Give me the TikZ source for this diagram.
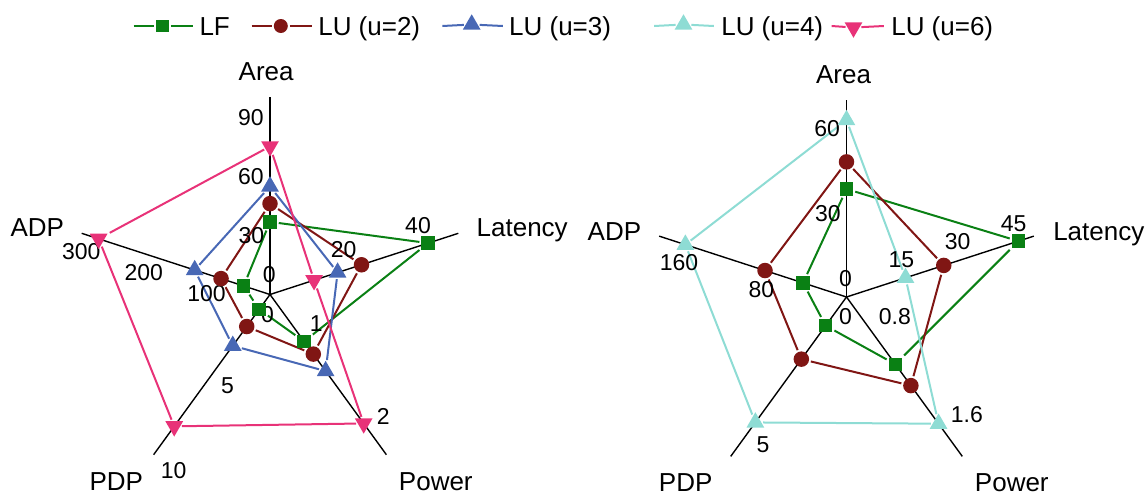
\documentclass[tikz,border=0pt]{standalone}
\usepackage{fontspec}
\setmainfont{Liberation Sans}
\usetikzlibrary{calc,shapes.geometric}
\definecolor{cLF}{RGB}{10,128,20}
\definecolor{cUtwo}{RGB}{128,22,20}
\definecolor{cUthree}{RGB}{72,104,181}
\definecolor{cUfour}{RGB}{142,220,212}
\definecolor{cUsix}{RGB}{232,50,120}
\pgfdeclarelayer{bg}
\pgfsetlayers{bg,main}
\tikzset{
  axisline/.style={line width=1.4pt, black},
  serline/.style={line width=2pt},
  mksq/.style={rectangle, fill=#1, draw=none, minimum size=13.5pt, inner sep=0pt, outer sep=2pt},
  mkci/.style={circle, fill=#1, draw=none, minimum size=15.5pt, inner sep=0pt, outer sep=2pt},
  mkup/.style={regular polygon, regular polygon sides=3, fill=#1, draw=none, minimum size=20.5pt, inner sep=0pt, outer sep=1.5pt},
  mkdn/.style={regular polygon, regular polygon sides=3, shape border rotate=180, fill=#1, draw=none, minimum size=20.5pt, inner sep=0pt, outer sep=1.5pt},
  axlabel/.style={font=\fontsize{26}{30}\selectfont, inner sep=0pt, text height=18.6pt, text depth=0pt, anchor=center},
  ticklabel/.style={font=\fontsize{23}{26}\selectfont, inner sep=0pt, anchor=center},
  legtext/.style={font=\fontsize{26}{30}\selectfont, inner sep=0pt, text height=18.6pt, text depth=0pt, anchor=west},
}
% #1 chart prefix, #2 series id, #3 marker style, #4 colour, #5..#9 fractions (Area, Latency, Power, PDP, ADP)
\newcommand{\radarseries}[9]{%
  \node[#3=#4] (#1#2a) at ($(#1c)!#5!(#1ea)$) {};
  \node[#3=#4] (#1#2b) at ($(#1c)!#6!(#1eb)$) {};
  \node[#3=#4] (#1#2c) at ($(#1c)!#7!(#1ec)$) {};
  \node[#3=#4] (#1#2d) at ($(#1c)!#8!(#1ed)$) {};
  \node[#3=#4] (#1#2e) at ($(#1c)!#9!(#1ee)$) {};
  \begin{pgfonlayer}{bg}
    \draw[serline, #4] (#1#2a) -- (#1#2b) -- (#1#2c) -- (#1#2d) -- (#1#2e) -- (#1#2a);
  \end{pgfonlayer}
}
\begin{document}
\begin{tikzpicture}[x=1pt,y=-1pt]
\useasboundingbox (0,0) rectangle (1146,496);

% ---------- legend ----------
\coordinate (l1s) at (133.5,26); \coordinate (l1e) at (192.7,26);
\node[mksq=cLF, minimum size=12.5pt] (l1m) at (162.7,26) {};
\draw[serline, cLF] (l1s) -- (l1m) -- (l1e);
\node[legtext] (l1t) at (199.3,26) {LF};

\coordinate (l2s) at (251.5,26); \coordinate (l2e) at (311.5,26);
\node[mkci=cUtwo, minimum size=14pt] (l2m) at (280.8,26) {};
\draw[serline, cUtwo] (l2s) -- (l2m) -- (l2e);
\node[legtext] (l2t) at (318.1,26) {LU (u=2)};

\coordinate (l3s) at (442.4,26); \coordinate (l3e) at (502.8,26);
\node[mkup=cUthree] (l3m) at (471.7,24.5) {};
\draw[serline, cUthree] (l3s) -- (l3m) -- (l3e);
\node[legtext] (l3t) at (509,26) {LU (u=3)};

\coordinate (l4s) at (654.2,26); \coordinate (l4e) at (713.8,26);
\node[mkup=cUfour] (l4m) at (683.5,24.5) {};
\draw[serline, cUfour] (l4s) -- (l4m) -- (l4e);
\node[legtext] (l4t) at (721.1,26) {LU (u=4)};

\coordinate (l5s) at (831.6,26); \coordinate (l5e) at (883.8,26);
\node[mkdn=cUsix] (l5m) at (853.5,27.5) {};
\draw[serline, cUsix] (l5s) -- (l5m) -- (l5e);
\node[legtext] (l5t) at (891.1,26) {LU (u=6)};

% ---------- left chart ----------
\coordinate (Lc) at (270,294.5);
\coordinate (Lea) at ($(Lc)+(-90:198)$);
\coordinate (Leb) at ($(Lc)+(-18:198)$);
\coordinate (Lec) at ($(Lc)+(54:198)$);
\coordinate (Led) at ($(Lc)+(126:198)$);
\coordinate (Lee) at ($(Lc)+(198:198)$);
\begin{pgfonlayer}{bg}
\draw[axisline] (Lc) -- (Lea);
\draw[axisline] (Lc) -- (Leb);
\draw[axisline] (Lc) -- (Lec);
\draw[axisline] (Lc) -- (Led);
\draw[axisline] (Lc) -- (Lee);
\end{pgfonlayer}

\node[ticklabel] (Lt90) at (250.9,117.7) {90};
\node[ticklabel] (Lt60) at (250.9,176.7) {60};
\node[ticklabel] (Lt30) at (251.5,236) {30};
\node[ticklabel] (Lt0a) at (269.3,275) {0};
\node[ticklabel] (Lt40) at (418,226) {40};
\node[ticklabel] (Lt20) at (343.7,250) {20};
\node[ticklabel] (Lt0b) at (267.5,314.5) {0};
\node[ticklabel] (Lt1) at (316.3,323.3) {1};
\node[ticklabel] (Lt2) at (383.2,416.7) {2};
\node[ticklabel] (Lt5) at (227.4,386) {5};
\node[ticklabel] (Lt10) at (173.7,470.7) {10};
\node[ticklabel] (Lt100) at (206.6,293.3) {100};
\node[ticklabel] (Lt200) at (143.7,272.7) {200};
\node[ticklabel] (Lt300) at (81.2,251.7) {300};

\radarseries{L}{g}{mksq}{cLF}{0.367}{0.840}{0.293}{0.093}{0.14}
\radarseries{L}{r}{mkci}{cUtwo}{0.459}{0.486}{0.372}{0.2}{0.26}
\radarseries{L}{b}{mkup}{cUthree}{0.546}{0.359}{0.478}{0.32}{0.40}
\radarseries{L}{p}{mkdn}{cUsix}{0.748}{0.234}{0.805}{0.823}{0.91}

\node[axlabel] (Lla) at (266.2,70.7) {Area};
\node[axlabel] (Llb) at (522.2,227.5) {Latency};
\node[axlabel] (Llc) at (435.8,481.5) {Power};
\node[axlabel] (Lld) at (116.3,481.5) {PDP};
\node[axlabel] (Lle) at (37.3,227.3) {ADP};

% ---------- right chart ----------
\coordinate (Rc) at (846.5,297);
\coordinate (Rea) at ($(Rc)+(-90:197)$);
\coordinate (Reb) at ($(Rc)+(-18:197)$);
\coordinate (Rec) at ($(Rc)+(54:197)$);
\coordinate (Red) at ($(Rc)+(126:197)$);
\coordinate (Ree) at ($(Rc)+(198:197)$);
\begin{pgfonlayer}{bg}
\draw[axisline] (Rc) -- (Rea);
\draw[axisline] (Rc) -- (Reb);
\draw[axisline] (Rc) -- (Rec);
\draw[axisline] (Rc) -- (Red);
\draw[axisline] (Rc) -- (Ree);
\end{pgfonlayer}

\node[ticklabel] (Rt60) at (827.2,129) {60};
\node[ticklabel] (Rt30a) at (827.8,214) {30};
\node[ticklabel] (Rt0a) at (845.4,278.3) {0};
\node[ticklabel] (Rt45) at (1013.7,223.3) {45};
\node[ticklabel] (Rt30b) at (957.7,241.7) {30};
\node[ticklabel] (Rt15) at (901.3,260) {15};
\node[ticklabel] (Rt0b) at (845.4,316.7) {0};
\node[ticklabel] (Rt08) at (894.8,316.7) {0.8};
\node[ticklabel] (Rt16) at (966.8,415) {1.6};
\node[ticklabel] (Rt5) at (763.1,444.3) {5};
\node[ticklabel] (Rt80) at (761.4,290) {80};
\node[ticklabel] (Rt160) at (679.1,262.3) {160};

\radarseries{R}{g}{mksq}{cLF}{0.548}{0.918}{0.422}{0.18}{0.232}
\radarseries{R}{r}{mkci}{cUtwo}{0.686}{0.519}{0.556}{0.39}{0.435}
\radarseries{R}{c}{mkup}{cUfour}{0.898}{0.315}{0.795}{0.787}{0.86}

\node[axlabel] (Rla) at (843.6,74) {Area};
\node[axlabel] (Rlb) at (1098.8,231) {Latency};
\node[axlabel] (Rlc) at (1011.8,482) {Power};
\node[axlabel] (Rld) at (685.7,482) {PDP};
\node[axlabel] (Rle) at (614.4,230.7) {ADP};
\end{tikzpicture}
\end{document}
